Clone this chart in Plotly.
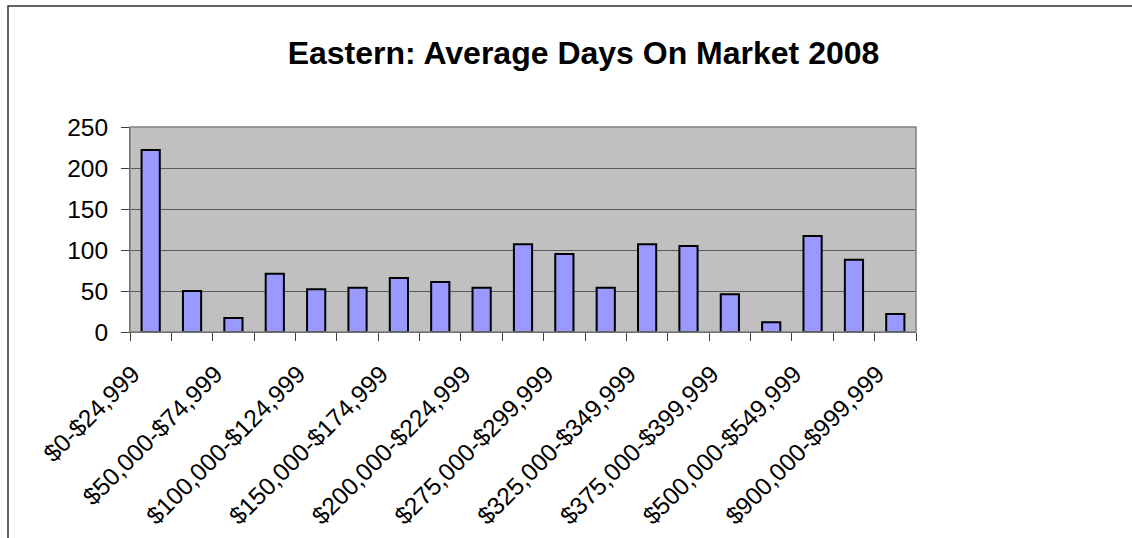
import plotly.graph_objects as go

categories = [
    "$0-$24,999", "$25,000-$49,999", "$50,000-$74,999", "$75,000-$99,999",
    "$100,000-$124,999", "$125,000-$149,999", "$150,000-$174,999", "$175,000-$199,999",
    "$200,000-$224,999", "$225,000-$274,999", "$275,000-$299,999", "$300,000-$324,999",
    "$325,000-$349,999", "$350,000-$374,999", "$375,000-$399,999", "$400,000-$499,999",
    "$500,000-$549,999", "$550,000-$899,999", "$900,000-$999,999",
]
days = [222, 50, 17, 71, 52, 54, 66, 61, 54, 107, 95, 54, 107, 105, 46, 12, 117, 88, 22]
y_ticks = [0, 50, 100, 150, 200, 250]

idx = list(range(len(categories)))
shown = idx[::2]

W, H = 1132, 538
L, R, T, B = 130, 916, 127, 332
pw, ph = R - L, B - T
FONT = "Liberation Sans, Arial, sans-serif"

fig = go.Figure(go.Bar(
    x=idx, y=days, width=0.44,
    marker=dict(color="#9999FF", line=dict(color="black", width=2)),
    hovertext=categories,
))

fx0 = (8 - L) / pw
fx1 = (W + 20 - L) / pw
fy0 = (B - (H + 20)) / ph
fy1 = 1 + (T - 6) / ph
frame_path = f"M {fx0},{fy0} L {fx0},{fy1} L {fx1},{fy1}"

fig.update_layout(
    width=W, height=H,
    margin=dict(l=L, r=W - R, t=T, b=H - B, pad=0, autoexpand=False),
    paper_bgcolor="white", plot_bgcolor="#C0C0C0",
    font=dict(family=FONT, size=24.5, color="black"),
    showlegend=False,
    title=dict(text="<b>Eastern: Average Days On Market 2008</b>",
               font=dict(size=32, family=FONT, color="black"),
               xref="container", yref="container",
               x=583.5 / W, y=1 - 53 / H, xanchor="center", yanchor="middle"),
    xaxis=dict(range=[-0.5, len(categories) - 0.5], tickmode="array",
               tickvals=shown, ticktext=[categories[i] for i in shown],
               tickangle=-45, ticks="", showgrid=False, zeroline=False,
               automargin=False,
               ticklabelstandoff=17, ticklabelshift=-18,
               showline=True, linecolor="#404040", linewidth=1,
               minor=dict(ticks="outside", tickmode="array",
                          tickvals=[i - 0.5 for i in range(len(categories) + 1)],
                          ticklen=8, tickcolor="#404040", tickwidth=1, showgrid=False)),
    yaxis=dict(range=[0, 250], tickmode="array", tickvals=y_ticks,
               ticks="outside", ticklen=8, tickcolor="#404040", tickwidth=1,
               ticklabelstandoff=8, automargin=False,
               showgrid=True, gridcolor="#5a5a5a", gridwidth=1, zeroline=False,
               showline=True, linecolor="#404040", linewidth=1),
    shapes=[
        dict(type="rect", xref="paper", yref="paper", x0=0, x1=1, y0=0, y1=1,
             line=dict(color="#808080", width=1.5), layer="above"),
        dict(type="path", xref="paper", yref="paper", path=frame_path,
             line=dict(color="#333333", width=1.5), layer="above"),
    ],
)

fig.write_html("out.html",
               config={"displayModeBar": False},
               post_script="document.body.style.margin='0';document.body.style.overflow='hidden';")
